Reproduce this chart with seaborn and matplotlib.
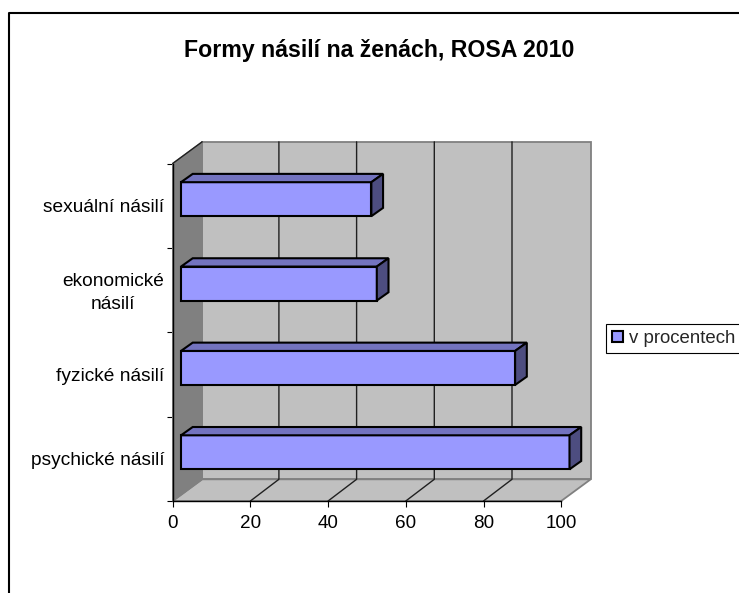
import numpy as np
import pandas as pd
import matplotlib
matplotlib.use('Agg')
import matplotlib.pyplot as plt
import seaborn as sns
from matplotlib.patches import Polygon, Rectangle
from matplotlib.lines import Line2D
from matplotlib.transforms import Affine2D, IdentityTransform

# Data
categories = ['sexuální násilí', 'ekonomické\nnásilí', 'fyzické násilí', 'psychické násilí']
values = [49, 50.4, 86, 100]
series_name = 'v procentech'
title = 'Formy násilí na ženách, ROSA 2010'
x_ticks = [0, 20, 40, 60, 80, 100]

W, H = 739, 593

sns.set_style('white')
plt.rcParams['font.family'] = ['Liberation Sans', 'DejaVu Sans']
plt.rcParams['font.size'] = 13.8

fig = plt.figure(figsize=(W / 100, H / 100), dpi=100)

# Front plane of the fake 3D box, in pixels
left, right, top, bottom = 172.7, 561.2, 163.5, 501
ax = fig.add_axes([left / W, 1 - bottom / H, (right - left) / W, (bottom - top) / H])

df = pd.DataFrame({'kategorie': categories, 'hodnota': values})
sns.barplot(data=df, y='kategorie', x='hodnota', orient='h', color='#9999FF', saturation=1,
            width=0.403, edgecolor='black', linewidth=1.5, label=series_name, ax=ax, zorder=3)
ax.set_xlim(0, 100)
ax.set_ylim(3.5, -0.5)
ax.set_xlabel('')
ax.set_ylabel('')
ax.patch.set_alpha(0)

# Bars stand a little inside the box
bar_shift = Affine2D().translate(8.3, 6.5)
bar_tf = ax.transData + bar_shift
depth_x, depth_y = 11.7, 8.3
for bar in ax.patches:
    bar.set_transform(bar_tf)
    bar.set_clip_on(False)
    x0, x1 = bar.get_x(), bar.get_x() + bar.get_width()
    y0, y1 = bar.get_y(), bar.get_y() + bar.get_height()
    (px0, py_top), (px1, py_bot) = bar_tf.transform([(x0, y0), (x1, y1)])
    top_face = [(px0, py_top), (px1, py_top), (px1 + depth_x, py_top + depth_y), (px0 + depth_x, py_top + depth_y)]
    side_face = [(px1, py_top), (px1 + depth_x, py_top + depth_y), (px1 + depth_x, py_bot + depth_y), (px1, py_bot)]
    for pts, col in [(top_face, '#7373BF'), (side_face, '#4D4D80')]:
        ax.add_patch(Polygon(pts, closed=True, facecolor=col, edgecolor='black', linewidth=1.5,
                             transform=IdentityTransform(), clip_on=False, zorder=3))

# Walls and floor
bx0, by0, bx1, by1 = ax.bbox.extents
dx, dy = 29.5, 21.7
grey = '#808080'
wall_kw = dict(transform=IdentityTransform(), clip_on=False, zorder=1)
ax.add_patch(Rectangle((bx0 + dx, by0 + dy), bx1 - bx0, by1 - by0, facecolor='#C0C0C0', edgecolor=grey, linewidth=1.3, **wall_kw))
ax.add_patch(Polygon([(bx0, by0), (bx1, by0), (bx1 + dx, by0 + dy), (bx0 + dx, by0 + dy)],
                     facecolor='#C0C0C0', edgecolor=grey, linewidth=1.3, **wall_kw))
ax.add_patch(Polygon([(bx0, by0), (bx0 + dx, by0 + dy), (bx0 + dx, by1 + dy), (bx0, by1)],
                     facecolor=grey, edgecolor=grey, linewidth=1, **wall_kw))
ax.add_line(Line2D([bx0, bx0 + dx], [by1, by1 + dy], color='#202020', linewidth=1,
                   transform=IdentityTransform(), clip_on=False, zorder=1.5))

# Gridlines on the back wall and floor
for t in x_ticks[1:-1]:
    gx = ax.transData.transform((t, 0))[0]
    ax.add_line(Line2D([gx, gx + dx - 1, gx + dx - 1], [by0, by0 + dy, by1 + dy], color='#202020', linewidth=1,
                       transform=IdentityTransform(), clip_on=False, zorder=1.5))

# Axes
for side in ['top', 'right']:
    ax.spines[side].set_visible(False)
for side in ['left', 'bottom']:
    ax.spines[side].set_visible(True)
    ax.spines[side].set_color('black')
    ax.spines[side].set_linewidth(1)
ax.set_xticks(x_ticks)
ax.set_yticks(range(len(categories)))
ax.set_yticklabels(categories, multialignment='center', linespacing=1.45, color='black', fontsize=13.8)
ax.set_yticks(np.arange(-0.5, 4), minor=True)
ax.tick_params(axis='y', which='major', length=0, pad=6)
ax.tick_params(axis='y', which='minor', left=True, length=4.3, width=0.8, color='black')
ax.tick_params(axis='x', which='major', bottom=True, length=4, width=0.8, color='black', labelsize=13.6, labelcolor='black', pad=6)

# The two-line label sits slightly higher
two_line = ax.get_yticklabels()[1]
two_line.set_transform(two_line.get_transform() + Affine2D().translate(0, 2))

# Outer chart frame, cut by the picture edge
fig.add_artist(Line2D([9 / W, 9 / W, 1], [0, 1 - 12.5 / H, 1 - 12.5 / H], color='black', linewidth=1.5))

fig.text(379 / W, 1 - 50 / H, title, ha='center', va='center', fontsize=16.7, fontweight='bold', color='black')

handles, labels = ax.get_legend_handles_labels()
leg = ax.legend(handles, labels, loc='center left', bbox_to_anchor=(606 / W, 1 - 338.5 / H),
                bbox_transform=fig.transFigure, fancybox=False, frameon=True, edgecolor='black', framealpha=1,
                borderaxespad=0, borderpad=0.3, handlelength=0.6, handleheight=0.6, handletextpad=0.35, fontsize=13.4)
leg.get_frame().set_linewidth(0.8)
leg.set_zorder(5)

fig.savefig('out.png', dpi=100)
